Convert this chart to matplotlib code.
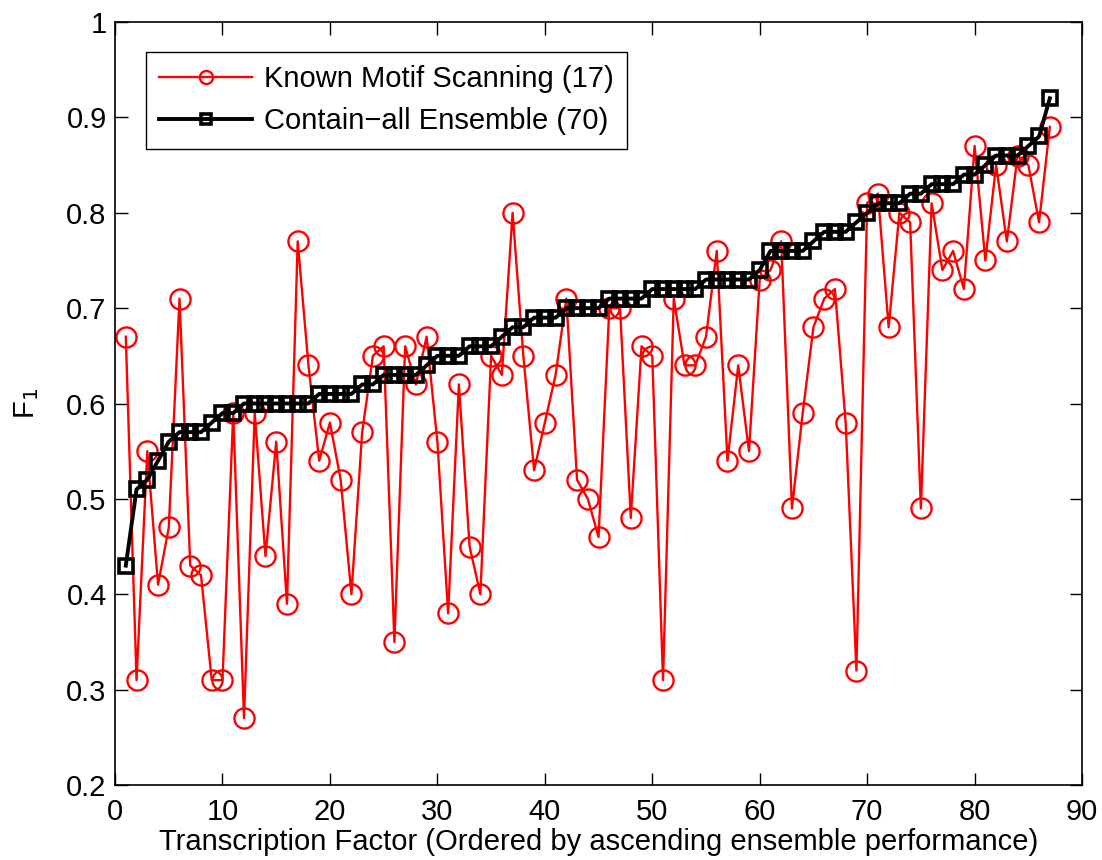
import numpy as np
import matplotlib
matplotlib.use('Agg')
import matplotlib.pyplot as plt

plt.rcParams['font.family'] = ['Liberation Sans', 'DejaVu Sans']

# F1 score per transcription factor, ordered by ensemble performance
tf_index = np.arange(1, 88)

known_motif = [0.67, 0.31, 0.55, 0.41, 0.47, 0.71, 0.43, 0.42, 0.31, 0.31,
               0.59, 0.27, 0.59, 0.44, 0.56, 0.39, 0.77, 0.64, 0.54, 0.58,
               0.52, 0.40, 0.57, 0.65, 0.66, 0.35, 0.66, 0.62, 0.67, 0.56,
               0.38, 0.62, 0.45, 0.40, 0.65, 0.63, 0.80, 0.65, 0.53, 0.58,
               0.63, 0.71, 0.52, 0.50, 0.46, 0.70, 0.70, 0.48, 0.66, 0.65,
               0.31, 0.71, 0.64, 0.64, 0.67, 0.76, 0.54, 0.64, 0.55, 0.73,
               0.74, 0.77, 0.49, 0.59, 0.68, 0.71, 0.72, 0.58, 0.32, 0.81,
               0.82, 0.68, 0.80, 0.79, 0.49, 0.81, 0.74, 0.76, 0.72, 0.87,
               0.75, 0.85, 0.77, 0.86, 0.85, 0.79, 0.89]

ensemble = [0.43, 0.51, 0.52, 0.54, 0.56, 0.57, 0.57, 0.57, 0.58, 0.59,
            0.59, 0.60, 0.60, 0.60, 0.60, 0.60, 0.60, 0.60, 0.61, 0.61,
            0.61, 0.61, 0.62, 0.62, 0.63, 0.63, 0.63, 0.63, 0.64, 0.65,
            0.65, 0.65, 0.66, 0.66, 0.66, 0.67, 0.68, 0.68, 0.69, 0.69,
            0.69, 0.70, 0.70, 0.70, 0.70, 0.71, 0.71, 0.71, 0.71, 0.72,
            0.72, 0.72, 0.72, 0.72, 0.73, 0.73, 0.73, 0.73, 0.73, 0.74,
            0.76, 0.76, 0.76, 0.76, 0.77, 0.78, 0.78, 0.78, 0.79, 0.80,
            0.81, 0.81, 0.81, 0.82, 0.82, 0.83, 0.83, 0.83, 0.84, 0.84,
            0.85, 0.86, 0.86, 0.86, 0.87, 0.88, 0.92]

labels = ['Known Motif Scanning (17)', 'Contain\u2212all Ensemble (70)']

fig = plt.figure(figsize=(11.02, 8.60), dpi=100)
ax = fig.add_axes([0.1044, 0.0872, 0.8775, 0.8872])

ax.plot(tf_index, known_motif, '-o', color='#ff0000', lw=1.7, ms=14.5,
        mfc='none', mew=1.7, label=labels[0])
ax.plot(tf_index, ensemble, '-s', color='black', lw=2.8, ms=10.5,
        mfc='none', mew=2.6, label=labels[1])

ax.set_xlim(0, 90)
ax.set_ylim(0.2, 1.0)
ax.set_xticks(np.arange(0, 91, 10))
ax.set_yticks(np.arange(0.2, 1.01, 0.1))
ax.set_yticklabels(['0.2', '0.3', '0.4', '0.5', '0.6', '0.7', '0.8', '0.9', '1'])
ax.tick_params(direction='in', top=True, right=True, length=9, width=1,
               labelsize=21)
ax.tick_params(axis='x', pad=9)
ax.tick_params(axis='y', pad=6)
for s in ax.spines.values():
    s.set_linewidth(1.2)

# reference crops this label at the bottom edge; keep it just inside
ax.set_xlabel('Transcription Factor (Ordered by ascending ensemble performance)',
              fontsize=21, labelpad=2)
ax.set_ylabel('F$_1$', fontsize=21, labelpad=18)

leg = ax.legend(loc='upper left', bbox_to_anchor=(0.032, 0.961), fontsize=21,
                fancybox=False, edgecolor='black', framealpha=1,
                handlelength=3.2, handletextpad=0.4, borderpad=0.45,
                labelspacing=0.5, markerscale=0.65, borderaxespad=0)
leg.get_frame().set_linewidth(1.0)

fig.savefig('out.png', dpi=100)
